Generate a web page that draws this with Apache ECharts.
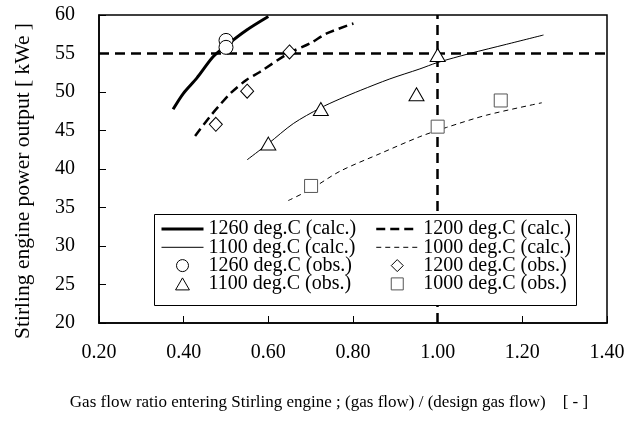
<!DOCTYPE html>
<html>
<head>
<meta charset="utf-8">
<script src="https://cdn.jsdelivr.net/npm/echarts@6/dist/echarts.min.js"></script>
<style>
  html, body { margin: 0; padding: 0; background: #fff; }
  #chart { width: 638px; height: 433px; }
</style>
</head>
<body>
<div id="chart"></div>
<script>
// values
const calc1260X = [0.375, 0.399, 0.431, 0.470, 0.502, 0.549, 0.600];
const calc1260Y = [47.75, 49.8, 51.8, 54.6, 56.1, 58.05, 59.8];

const calc1200X = [0.427, 0.462, 0.482, 0.510, 0.549, 0.580, 0.647, 0.698, 0.738, 0.801];
const calc1200Y = [44.3, 46.8, 48.1, 49.8, 51.6, 52.6, 55.0, 56.3, 57.6, 58.9];

const calc1100X = [0.550, 0.600, 0.659, 0.722, 0.769, 0.817, 0.887, 0.958, 0.998, 1.076, 1.163, 1.250];
const calc1100Y = [41.2, 43.3, 45.9, 47.9, 49.1, 50.2, 51.7, 53.0, 53.8, 55.0, 56.2, 57.4];

const calc1000X = [0.647, 0.698, 0.769, 0.864, 0.958, 1.021, 1.116, 1.246];
const calc1000Y = [35.9, 37.3, 39.7, 42.0, 44.2, 45.4, 47.0, 48.6];

const obs1260X = [0.50, 0.50];
const obs1260Y = [56.7, 55.8];
const obs1200X = [0.476, 0.550, 0.650];
const obs1200Y = [45.8, 50.1, 55.2];
const obs1100X = [0.600, 0.724, 0.950, 1.000];
const obs1100Y = [43.3, 47.8, 49.7, 54.8];
const obs1000X = [0.701, 1.000, 1.149];
const obs1000Y = [37.8, 45.5, 48.9];

// design point guide lines
const designFlow = 1.0;
const designPower = 55;

const xTicks = { min: 0.2, max: 1.4, step: 0.2 };
const yTicks = { min: 20, max: 60, step: 5 };

const FONT = '"Liberation Serif", "Times New Roman", serif';

const styles = {
    '1260 deg.C (calc.)': { width: 3 },
    '1200 deg.C (calc.)': { width: 2.5, type: [9, 5] },
    '1100 deg.C (calc.)': { width: 1 },
    '1000 deg.C (calc.)': { width: 1, type: [5, 4] }
};

function pairs(xs, ys) {
    return xs.map((x, i) => [x, ys[i]]);
}

function calcSeries(name, xs, ys) {
    return {
        name: name,
        type: 'line',
        data: pairs(xs, ys),
        symbol: 'none',
        smooth: 0.3,
        silent: true,
        lineStyle: Object.assign({ color: '#000' }, styles[name]),
        itemStyle: { color: '#000' },
        z: 2
    };
}

function obsSeries(name, xs, ys, symbol, size, border) {
    return {
        name: name,
        type: 'scatter',
        data: pairs(xs, ys),
        symbol: symbol,
        symbolSize: size,
        silent: true,
        itemStyle: { color: '#fff', borderColor: border || '#000', borderWidth: 1, opacity: 1 },
        z: 5
    };
}

const series = [
    calcSeries('1260 deg.C (calc.)', calc1260X, calc1260Y),
    calcSeries('1200 deg.C (calc.)', calc1200X, calc1200Y),
    calcSeries('1100 deg.C (calc.)', calc1100X, calc1100Y),
    calcSeries('1000 deg.C (calc.)', calc1000X, calc1000Y),
    obsSeries('1260 deg.C (obs.)', obs1260X, obs1260Y, 'circle', 14),
    obsSeries('1200 deg.C (obs.)', obs1200X, obs1200Y, 'diamond', [13, 14]),
    obsSeries('1100 deg.C (obs.)', obs1100X, obs1100Y, 'triangle', [15, 13]),
    obsSeries('1000 deg.C (obs.)', obs1000X, obs1000Y, 'rect', 13, '#555')
];

// guide lines hang off the first series, kept under the legend box
series[0].markLine = {
    silent: true,
    z: 1,
    symbol: 'none',
    label: { show: false },
    lineStyle: { color: '#000', width: 2.5, type: [10, 6] },
    data: [{ xAxis: designFlow }, { yAxis: designPower }]
};

const legendText = { fontFamily: FONT, fontSize: 20, color: '#000' };

// legend entries: lines without the centre dot, symbols kept square
const lineItem = name => ({
    name: name,
    itemStyle: { opacity: 0 },
    lineStyle: Object.assign({ color: '#000' }, styles[name])
});
const symItem = (name, icon) => ({
    name: name,
    icon: icon,
    itemStyle: { borderWidth: 1 }
});
const icons = {
    diamond: 'path://M5,0 L10,5 L5,10 L0,5 Z',
    triangle: 'path://M0,10 L5.77,0 L11.55,10 Z',
    rect: 'path://M0,0 L10,0 L10,10 L0,10 Z'
};

const legendBase = {
    orient: 'vertical', top: 219, padding: 0, itemGap: -1.7,
    itemWidth: 42, itemHeight: 12, selectedMode: false,
    symbolKeepAspect: true,
    textStyle: legendText
};

const option = {
    animation: false,
    backgroundColor: '#fff',
    grid: {
        left: 99, top: 15, width: 508, height: 308,
        show: true, borderColor: '#000', borderWidth: 1.5, backgroundColor: 'transparent'
    },
    xAxis: {
        type: 'value',
        min: xTicks.min, max: xTicks.max, interval: xTicks.step,
        name: 'Gas flow ratio entering Stirling engine ; (gas flow) / (design gas flow)    [ - ]',
        nameLocation: 'middle',
        nameGap: 71,
        nameTextStyle: { fontFamily: FONT, fontSize: 17, color: '#000', padding: [0, 48, 0, 0] },
        axisLine: { onZero: false, lineStyle: { color: '#000', width: 1.5 } },
        axisTick: { inside: true, length: 7, lineStyle: { color: '#000', width: 1 } },
        axisLabel: {
            margin: 20, fontFamily: FONT, fontSize: 20, color: '#000',
            formatter: v => v.toFixed(2)
        },
        splitLine: { show: false }
    },
    yAxis: {
        type: 'value',
        min: yTicks.min, max: yTicks.max, interval: yTicks.step,
        name: 'Stirling engine power output [ kWe ]',
        nameLocation: 'middle',
        nameGap: 65,
        nameTextStyle: { fontFamily: FONT, fontSize: 21.5, color: '#000', padding: [0, 24, 0, 0] },
        axisLine: { onZero: false, lineStyle: { color: '#000', width: 1.5 } },
        axisTick: { inside: true, length: 7, lineStyle: { color: '#000', width: 1 } },
        axisLabel: { margin: 24, fontFamily: FONT, fontSize: 20, color: '#000' },
        splitLine: { show: false }
    },
    legend: [
        Object.assign({}, legendBase, {
            left: 160,
            data: [
                lineItem('1260 deg.C (calc.)'),
                lineItem('1100 deg.C (calc.)'),
                symItem('1260 deg.C (obs.)', 'circle'),
                symItem('1100 deg.C (obs.)', icons.triangle)
            ]
        }),
        Object.assign({}, legendBase, {
            left: 375,
            data: [
                lineItem('1200 deg.C (calc.)'),
                lineItem('1000 deg.C (calc.)'),
                symItem('1200 deg.C (obs.)', icons.diamond),
                symItem('1000 deg.C (obs.)', icons.rect)
            ]
        })
    ],
    graphic: [
        {
            type: 'rect', z: 3, silent: true,
            shape: { x: 154.5, y: 214.5, width: 422, height: 91 },
            style: { fill: '#fff', stroke: '#000', lineWidth: 1 }
        }
    ],
    series: series
};

const chart = echarts.init(document.getElementById('chart'), null, { renderer: 'canvas' });
chart.setOption(option);
</script>
</body>
</html>
